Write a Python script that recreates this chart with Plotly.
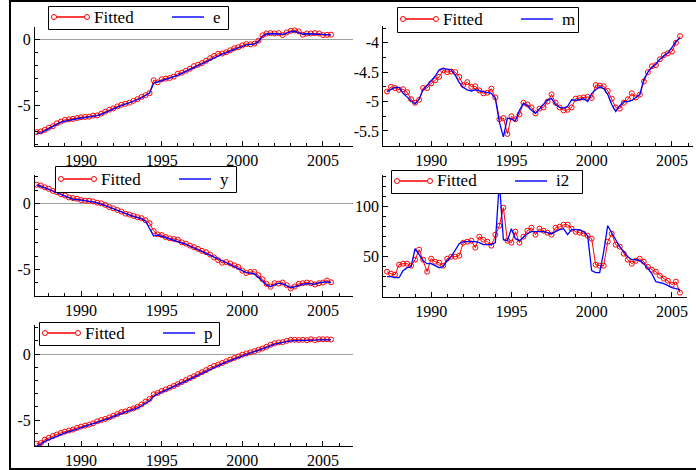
import plotly.graph_objects as go

# quarterly dates 1987Q2 .. 2005Q3
years = [1987 + 0.25 * k for k in range(1, 75)]

e_actual = [-7.15, -7.10, -6.95, -6.80, -6.62, -6.45, -6.30, -6.22, -6.15, -6.10, -6.02, -5.98,
            -5.95, -5.90, -5.87, -5.80, -5.70, -5.55, -5.42, -5.30, -5.15, -5.05, -4.95, -4.85,
            -4.72, -4.60, -4.45, -4.30, -4.10, -3.35, -3.25, -3.15, -3.10, -3.00, -2.90, -2.75,
            -2.60, -2.45, -2.30, -2.15, -2.00, -1.85, -1.70, -1.55, -1.40, -1.25, -1.15, -1.05,
            -0.90, -0.78, -0.68, -0.55, -0.45, -0.40, -0.38, -0.20, 0.20, 0.38, 0.40, 0.40,
            0.38, 0.35, 0.45, 0.55, 0.58, 0.50, 0.38, 0.40, 0.38, 0.40, 0.38, 0.33, 0.33, 0.32]
e_fitted = [-7.05, -7.00, -6.88, -6.72, -6.60, -6.38, -6.25, -6.12, -6.08, -6.05, -5.98, -5.92,
            -5.90, -5.88, -5.80, -5.78, -5.65, -5.50, -5.35, -5.25, -5.10, -4.98, -4.90, -4.82,
            -4.68, -4.55, -4.38, -4.25, -4.10, -3.12, -3.28, -3.05, -3.00, -2.95, -2.85, -2.62,
            -2.55, -2.40, -2.25, -2.05, -1.95, -1.82, -1.65, -1.45, -1.28, -1.12, -1.10, -1.00,
            -0.85, -0.70, -0.62, -0.48, -0.38, -0.40, -0.35, -0.12, 0.28, 0.42, 0.45, 0.42,
            0.45, 0.30, 0.50, 0.62, 0.65, 0.58, 0.32, 0.42, 0.42, 0.45, 0.42, 0.30, 0.32, 0.33]

m_actual = [-4.83, -4.79, -4.76, -4.76, -4.86, -4.92, -4.99, -5.04, -4.96, -4.80, -4.72, -4.65,
            -4.57, -4.46, -4.44, -4.45, -4.46, -4.55, -4.68, -4.76, -4.80, -4.82, -4.80, -4.82,
            -4.83, -4.84, -4.86, -4.95, -5.35, -5.60, -5.28, -5.30, -5.33, -5.15, -5.03, -5.07,
            -5.15, -5.20, -5.12, -5.05, -4.97, -4.95, -5.05, -5.10, -5.11, -5.08, -4.97, -4.98,
            -4.96, -4.95, -5.00, -4.86, -4.80, -4.75, -4.78, -4.88, -5.05, -5.17, -5.07, -5.00,
            -5.00, -4.98, -4.93, -4.88, -4.62, -4.50, -4.42, -4.36, -4.28, -4.22, -4.17, -4.08,
            -3.98, -3.92]
m_fitted = [-4.83, -4.75, -4.77, -4.80, -4.79, -4.84, -4.96, -5.02, -4.97, -4.77, -4.77, -4.69,
            -4.64, -4.58, -4.47, -4.50, -4.49, -4.50, -4.58, -4.72, -4.67, -4.75, -4.74, -4.81,
            -4.86, -4.85, -4.78, -4.93, -5.30, -5.28, -5.55, -5.25, -5.30, -5.22, -5.02, -5.05,
            -5.10, -5.20, -5.12, -5.10, -5.00, -4.88, -5.02, -5.10, -5.15, -5.14, -5.10, -4.95,
            -4.94, -4.93, -4.92, -4.94, -4.72, -4.73, -4.74, -4.82, -4.95, -5.10, -5.12, -5.02,
            -4.96, -4.86, -4.93, -4.88, -4.66, -4.50, -4.40, -4.38, -4.28, -4.21, -4.18, -4.15,
            -4.00, -3.89]

y_actual = [1.38, 1.30, 1.18, 1.05, 0.92, 0.78, 0.65, 0.50, 0.38, 0.30, 0.28, 0.22,
            0.18, 0.15, 0.12, 0.05, -0.05, -0.18, -0.30, -0.45, -0.55, -0.68, -0.80, -0.92,
            -1.00, -1.08, -1.18, -1.35, -1.90, -2.48, -2.40, -2.50, -2.60, -2.68, -2.75, -2.85,
            -2.95, -3.10, -3.25, -3.38, -3.50, -3.62, -3.75, -3.90, -4.05, -4.20, -4.35, -4.50,
            -4.62, -4.75, -4.90, -5.08, -5.25, -5.28, -5.35, -5.60, -5.90, -6.20, -6.30, -6.15,
            -6.05, -6.10, -6.25, -6.38, -6.32, -6.20, -6.12, -6.08, -6.10, -6.12, -6.00, -5.98,
            -5.95, -6.00]
y_fitted = [1.42, 1.35, 1.22, 1.10, 0.95, 0.85, 0.70, 0.60, 0.45, 0.40, 0.35, 0.25,
            0.20, 0.20, 0.15, 0.05, 0.00, -0.12, -0.28, -0.38, -0.50, -0.62, -0.78, -0.85,
            -0.95, -1.05, -1.12, -1.28, -1.50, -2.10, -2.35, -2.40, -2.55, -2.65, -2.70, -2.75,
            -2.95, -3.05, -3.20, -3.32, -3.45, -3.60, -3.70, -3.88, -4.10, -4.30, -4.50, -4.45,
            -4.55, -4.70, -4.82, -5.10, -5.28, -5.20, -5.20, -5.45, -5.75, -6.10, -6.32, -6.05,
            -6.08, -6.00, -6.20, -6.45, -6.30, -6.10, -6.05, -6.00, -6.05, -6.15, -6.05, -6.00,
            -5.85, -5.98]

i2_actual = [30, 30, 29, 29, 36, 39, 40, 58, 52, 46, 43, 43,
             41, 39, 40, 46, 50, 57, 63, 65, 65, 65, 65, 64,
             62, 62, 62, 64, 125, 67, 66, 78, 68, 66, 70, 73,
             75, 75, 75, 75, 74, 73, 75, 77, 78, 72, 77, 77,
             77, 75, 71, 36, 34, 34, 55, 81, 74, 66, 60, 55,
             50, 47, 47, 46, 43, 38, 33, 25, 24, 23, 21, 19,
             18, 17]
i2_fitted = [35, 33, 32, 42, 43, 43, 41, 47, 57, 47, 35, 48,
             45, 44, 41, 48, 50, 50, 51, 64, 65, 66, 59, 70,
             67, 65, 61, 72, 81, 99, 66, 64, 75, 64, 70, 76,
             79, 72, 78, 76, 74, 72, 79, 80, 82, 82, 78, 75,
             74, 73, 71, 68, 42, 41, 41, 65, 73, 62, 60, 53,
             47, 43, 46, 48, 45, 40, 37, 35, 31, 28, 26, 22,
             25, 14]

p_actual = [-6.95, -6.85, -6.62, -6.48, -6.35, -6.22, -6.10, -5.98, -5.88, -5.80, -5.70, -5.58,
            -5.48, -5.40, -5.32, -5.20, -5.08, -4.98, -4.88, -4.75, -4.62, -4.50, -4.40, -4.30,
            -4.20, -4.08, -3.92, -3.75, -3.55, -3.20, -3.02, -2.88, -2.75, -2.62, -2.50, -2.35,
            -2.20, -2.05, -1.90, -1.75, -1.60, -1.45, -1.30, -1.15, -1.00, -0.88, -0.75, -0.62,
            -0.50, -0.38, -0.25, -0.12, 0.00, 0.08, 0.18, 0.28, 0.38, 0.48, 0.62, 0.75,
            0.82, 0.88, 0.95, 1.00, 1.02, 1.02, 1.03, 1.02, 1.05, 1.05, 1.08, 1.08,
            1.08, 1.08]
p_fitted = [-6.80, -6.75, -6.50, -6.35, -6.22, -6.10, -5.98, -5.88, -5.80, -5.72, -5.60, -5.50,
            -5.42, -5.35, -5.25, -5.10, -5.00, -4.92, -4.80, -4.68, -4.55, -4.40, -4.35, -4.22,
            -4.12, -4.00, -3.82, -3.60, -3.40, -3.05, -2.95, -2.80, -2.68, -2.55, -2.42, -2.28,
            -2.12, -1.98, -1.82, -1.68, -1.52, -1.38, -1.22, -1.05, -0.90, -0.80, -0.68, -0.55,
            -0.42, -0.30, -0.18, -0.05, 0.05, 0.12, 0.22, 0.32, 0.42, 0.55, 0.70, 0.82,
            0.88, 0.90, 1.00, 1.08, 1.08, 1.06, 1.08, 1.05, 1.12, 1.05, 1.12, 1.12,
            1.12, 1.10]

fitted_label = "Fitted"
panel_names = ["e", "m", "y", "i2", "p"]
x_tick_vals = [1990, 1995, 2000, 2005]
x_tick_text = ["1990", "1995", "2000", "2005"]
y_tick_vals = [[-5, 0], [-5.5, -5, -4.5, -4], [-5, 0], [50, 100], [-5, 0]]
y_tick_text = [["-5", "0"], ["-5.5", "-5", "-4.5", "-4"], ["-5", "0"], ["50", "100"], ["-5", "0"]]

series = [(e_fitted, e_actual), (m_fitted, m_actual), (y_fitted, y_actual),
          (i2_fitted, i2_actual), (p_fitted, p_actual)]

W, H = 696, 470
FONT = "Liberation Serif, Times New Roman, DejaVu Serif, serif"
RED, BLUE = "#ff0000", "#0000ff"

# layout geometry (pixels): x0, x1, ytop, ybottom
geom = [(35, 353.3, 27, 146), (383.3, 693, 26, 146), (35, 353.3, 175, 296),
        (383.3, 687, 175, 296.7), (35, 353.3, 325, 446)]
x_ranges = [[1987.145, 2006.88], [1987.02, 2006.31], [1987.145, 2006.88],
            [1987.02, 2005.94], [1987.145, 2006.88]]
y_ranges = [[-8.1, 0.91], [-5.755, -3.716], [-7.02, 2.15], [10, 131.7], [-6.97, 2.2]]
y_minor = [1, 0.25, 1, 10, 1]
# legend boxes: left, top, width, height (pixels)
legend_box = [(48, 6, 180, 23), (397, 7, 181, 25), (55, 166, 181, 26),
              (391, 170, 191, 23), (39, 322, 180, 23)]


def px(x):
    return x / W


def py(y):
    return 1 - y / H


fig = go.Figure()
layout = dict(width=W, height=H, margin=dict(l=0, r=0, t=0, b=0), autosize=False,
              paper_bgcolor="white", plot_bgcolor="white",
              font=dict(family=FONT, size=16, color="black"), showlegend=False)
shapes = [dict(type="rect", xref="paper", yref="paper",
               x0=px(10), x1=1.02, y0=py(469), y1=py(1),
               line=dict(color="black", width=2))]
annotations = []

for i, name in enumerate(panel_names):
    n = "" if i == 0 else str(i + 1)
    fitted, actual = series[i]
    fig.add_trace(go.Scatter(x=years, y=fitted, name=fitted_label, mode="lines+markers",
                             line=dict(color=RED, width=1),
                             marker=dict(symbol="circle-open", size=5, color=RED,
                                         line=dict(width=1)),
                             xaxis="x" + n, yaxis="y" + n))
    fig.add_trace(go.Scatter(x=years, y=actual, name=name, mode="lines",
                             line=dict(color=BLUE, width=1.3),
                             xaxis="x" + n, yaxis="y" + n))
    x0, x1, yt, yb = geom[i]
    layout["xaxis" + n] = dict(domain=[px(x0), px(x1)], range=x_ranges[i], anchor="y" + n,
                               showline=True, linecolor="#000000", linewidth=1,
                               ticks="inside", ticklen=5, tickcolor="#000000",
                               tickmode="array", tickvals=x_tick_vals, ticktext=x_tick_text,
                               minor=dict(tickmode="linear", tick0=1985, dtick=1, ticks="inside",
                                          ticklen=3, tickcolor="#000000"),
                               showgrid=False, zeroline=False,
                               tickfont=dict(family=FONT, size=16, color="black"))
    layout["yaxis" + n] = dict(domain=[py(yb), py(yt)], range=y_ranges[i], anchor="x" + n,
                               showline=True, linecolor="#000000", linewidth=1,
                               ticks="inside", ticklen=5, tickcolor="#000000",
                               tickmode="array", tickvals=y_tick_vals[i], ticktext=y_tick_text[i],
                               minor=dict(tickmode="linear", tick0=0, dtick=y_minor[i],
                                          ticks="inside", ticklen=3, tickcolor="#000000"),
                               showgrid=False, zeroline=True, zerolinecolor="#a0a0a0",
                               zerolinewidth=1,
                               tickfont=dict(family=FONT, size=16, color="black"))

    # legend (drawn as a boxed key like the original)
    L, T, BW, BH = legend_box[i]
    cy = int(T + BH / 2)
    shapes.append(dict(type="rect", xref="paper", yref="paper",
                       x0=px(L + 0.5), x1=px(L + BW + 0.5), y0=py(T + BH + 0.5), y1=py(T + 0.5),
                       line=dict(color="black", width=1), fillcolor="white", layer="above"))
    shapes.append(dict(type="rect", xref="paper", yref="paper",
                       x0=px(L + 6), x1=px(L + 39), y0=py(cy + 0.7), y1=py(cy - 0.7),
                       line=dict(width=0), fillcolor=RED, layer="above"))
    for cx in (L + 6, L + 39):
        shapes.append(dict(type="circle", xref="paper", yref="paper",
                           x0=px(cx - 2.5), x1=px(cx + 2.5), y0=py(cy + 2.5), y1=py(cy - 2.5),
                           line=dict(color=RED, width=1), fillcolor="white", layer="above"))
    shapes.append(dict(type="rect", xref="paper", yref="paper",
                       x0=px(L + 124), x1=px(L + 156), y0=py(cy + 0.7), y1=py(cy - 0.7),
                       line=dict(width=0), fillcolor=BLUE, layer="above"))
    annotations.append(dict(xref="paper", yref="paper", x=px(L + 44), y=py(cy),
                            xanchor="left", yanchor="middle", text=fitted_label,
                            showarrow=False, font=dict(family=FONT, size=17, color="black")))
    annotations.append(dict(xref="paper", yref="paper", x=px(L + 163), y=py(cy),
                            xanchor="left", yanchor="middle", text=name,
                            showarrow=False, font=dict(family=FONT, size=17, color="black")))

layout["shapes"] = shapes
layout["annotations"] = annotations
fig.update_layout(**layout)
fig.write_html("out.html", config={"displayModeBar": False},
               post_script="document.body.style.margin='0px';document.body.style.overflow='hidden';")
